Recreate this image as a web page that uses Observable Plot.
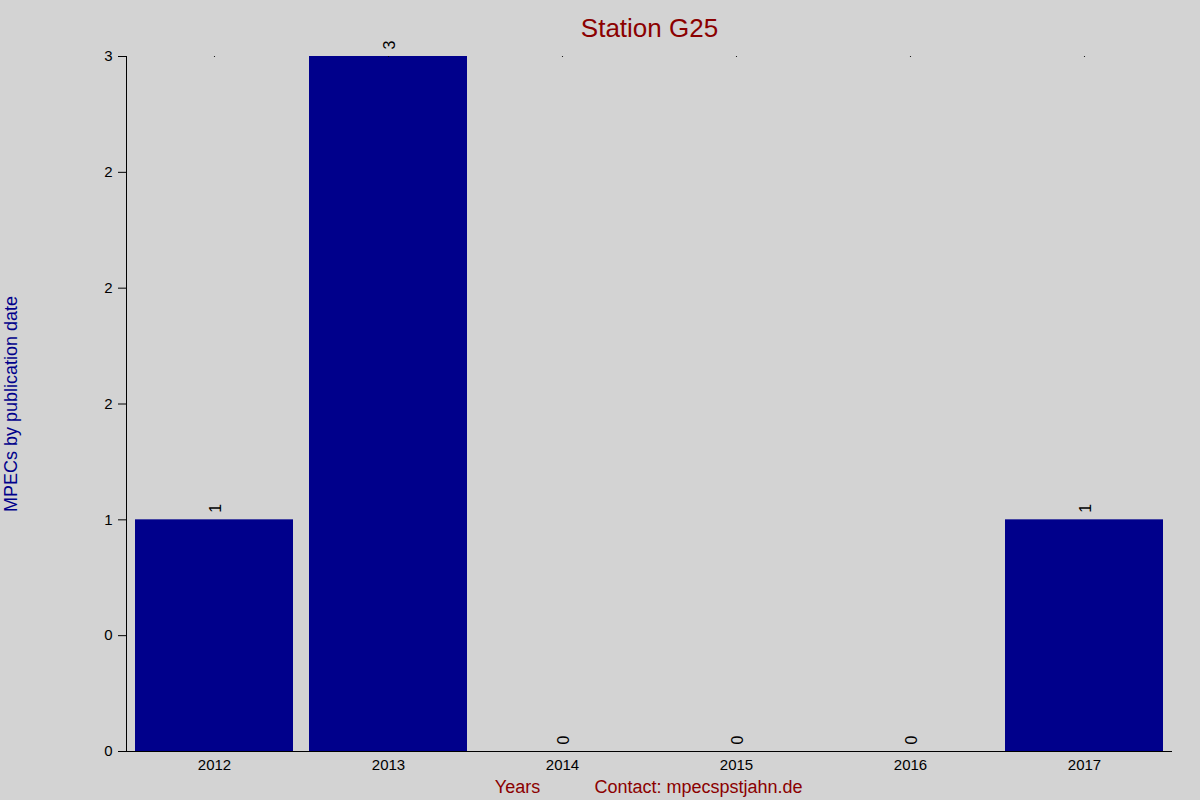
<!DOCTYPE html>
<html>
<head>
<meta charset="utf-8">
<script src="https://cdn.jsdelivr.net/npm/d3@7"></script>
<script src="https://cdn.jsdelivr.net/npm/@observablehq/plot@0.6"></script>
<style>
  html, body { margin: 0; padding: 0; background: #D3D3D3; }
  #chart svg { display: block; }
</style>
</head>
<body>
<div id="chart"></div>
<script>
const years = ["2012", "2013", "2014", "2015", "2016", "2017"];
const counts = [1, 3, 0, 0, 0, 1];
const yTickValues = [0, 0.5, 1, 1.5, 2, 2.5, 3];
const yTickLabels = ["0", "0", "1", "2", "2", "2", "3"];
const title = "Station G25";
const yLabel = "MPECs by publication date";
const xLabel = "Years";
const contact = "Contact: mpecspstjahn.de";

const data = years.map((y, i) => ({year: y, count: counts[i]}));
const font = "Liberation Sans, Arial, sans-serif";

const chart = Plot.plot({
  width: 1200,
  height: 800,
  marginLeft: 126,
  marginRight: 28,
  marginTop: 56,
  marginBottom: 49,
  style: {background: "#D3D3D3", fontFamily: font, fontSize: "15px", color: "black"},
  x: {domain: years, paddingInner: 0.092, paddingOuter: 0.046, label: null},
  y: {domain: [0, 3], label: null},
  marks: [
    Plot.barY(data, {x: "year", y: "count", fill: "#00008B"}),
    Plot.dot(years, {x: d => d, y: () => 3, r: 0.6, fill: "black", stroke: null}),
    Plot.text(data, {x: "year", y: "count", text: d => String(d.count), rotate: -90, textAnchor: "start", dy: -7, dx: 1, fontSize: 16, fill: "black"}),
    Plot.axisY({ticks: yTickValues, tickFormat: d => yTickLabels[yTickValues.indexOf(d)], tickSize: 8, tickPadding: 6, fontSize: 15, label: null}),
    Plot.axisX({tickSize: 0, tickPadding: 8, fontSize: 15, label: null}),
    Plot.frame({anchor: "left", stroke: "black"}),
    Plot.ruleY([0], {insetLeft: -8, stroke: "black"}),
    Plot.text([title], {frameAnchor: "top", dy: -38, fontSize: 26, fill: "#8B0000"}),
    Plot.text([yLabel], {frameAnchor: "left", dx: -115, rotate: -90, textAnchor: "middle", fontSize: 18, fill: "#00008B"}),
    Plot.text([xLabel], {frameAnchor: "bottom-left", dx: 391, dy: 41, textAnchor: "middle", fontSize: 18, fill: "#8B0000"}),
    Plot.text([contact], {frameAnchor: "bottom-left", dx: 572, dy: 41, textAnchor: "middle", fontSize: 18, fill: "#8B0000"})
  ]
});
document.getElementById("chart").appendChild(chart);
</script>
</body>
</html>
